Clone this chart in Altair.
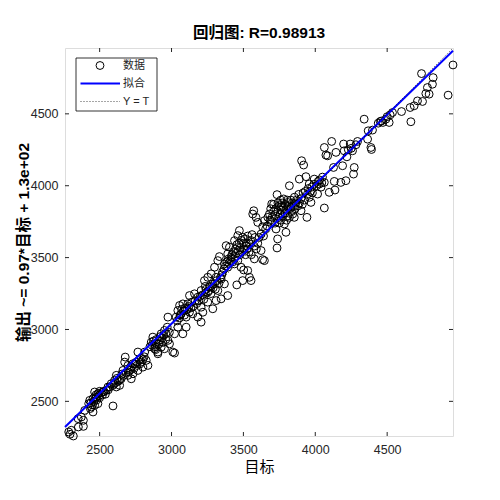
import altair as alt
import pandas as pd

# ---- data (target T, output O) ----
region_a = [
    (2294, 2271), (2285, 2287), (2317, 2259), (2303, 2299), (2352, 2322), (2387, 2326), (2387, 2368),
    (2350, 2380), (2373, 2391), (2396, 2437), (2424, 2484), (2431, 2507), (2442, 2461), (2454, 2426),
    (2454, 2519), (2465, 2472), (2465, 2565), (2477, 2530), (2488, 2484), (2488, 2553), (2523, 2565),
    (2546, 2576), (2558, 2600), (2581, 2623), (2593, 2468), (2604, 2646), (2616, 2681), (2616, 2600),
    (2639, 2611), (2650, 2657), (2662, 2715), (2674, 2773), (2678, 2808), (2697, 2750), (2697, 2681),
    (2440, 2490), (2460, 2500), (2470, 2520), (2480, 2510), (2495, 2540), (2500, 2525), (2510, 2560),
    (2520, 2545), (2530, 2570), (2540, 2550), (2500, 2570), (2475, 2545), (2450, 2475), (2435, 2450),
    (2560, 2580), (2570, 2600), (2590, 2610), (2610, 2630), (2620, 2660), (2630, 2640), (2640, 2650),
    (2600, 2620), (2655, 2690), (2665, 2680), (2685, 2700),
]
region_b = [
    (2708, 2715), (2720, 2657), (2732, 2692), (2732, 2762), (2755, 2773), (2766, 2715), (2766, 2843),
    (2789, 2773), (2801, 2738), (2813, 2843), (2824, 2785), (2836, 2750), (2859, 2912), (2870, 2947),
    (2882, 2866), (2894, 2900), (2905, 2843), (2905, 2831), (2917, 2924), (2928, 2970), (2928, 2877),
    (2951, 2993), (2951, 2866), (2970, 3016), (2975, 3086), (2975, 2924), (2986, 2900), (3009, 2843),
    (3021, 2836),
    (2720, 2740), (2740, 2730), (2745, 2760), (2760, 2750), (2775, 2790), (2780, 2760), (2790, 2800),
    (2800, 2790), (2810, 2810), (2715, 2720), (2700, 2705), (2850, 2880), (2865, 2890), (2875, 2920),
    (2885, 2880), (2895, 2930), (2910, 2900), (2920, 2950), (2935, 2940), (2945, 2960), (2960, 2970),
    (2960, 2930), (2940, 2910), (2890, 2860), (2985, 2980),
]
region_c = [
    (3021, 2970), (3032, 3086), (3044, 3016), (3044, 3132), (3056, 3167), (3067, 3109), (3079, 2970),
    (3079, 3178), (3102, 3016), (3102, 3086), (3113, 3178), (3125, 3120), (3125, 3236), (3148, 3109),
    (3160, 3248), (3183, 3225), (3183, 3086), (3206, 3271), (3206, 3155), (3206, 3051), (3218, 3120),
    (3229, 3340), (3252, 3363), (3252, 3259), (3252, 3190), (3264, 3294), (3276, 3387), (3287, 3317),
    (3287, 3144), (3299, 3433), (3310, 3363), (3310, 3201), (3322, 3479), (3322, 3271), (3333, 3507),
    (3345, 3213),
    (3040, 3060), (3055, 3080), (3060, 3100), (3070, 3140), (3085, 3130), (3090, 3100), (3095, 3150),
    (3110, 3140), (3120, 3160), (3135, 3150), (3140, 3190), (3150, 3160), (3165, 3200), (3175, 3180),
    (3190, 3200), (3200, 3230), (3215, 3240), (3225, 3210), (3235, 3250), (3240, 3280), (3260, 3270),
    (3270, 3300), (3275, 3250), (3290, 3290), (3300, 3320), (3305, 3280), (3315, 3340), (3330, 3320),
    (3340, 3360), (3235, 3300),
]
region_d = [
    (3368, 3456), (3368, 3317), (3380, 3583), (3391, 3526), (3391, 3433), (3391, 3236), (3403, 3572),
    (3414, 3502), (3438, 3618), (3438, 3456), (3454, 3310), (3461, 3653), (3461, 3479), (3472, 3688),
    (3484, 3433), (3495, 3641), (3495, 3340), (3502, 3414), (3519, 3583), (3530, 3410), (3542, 3595),
    (3542, 3363), (3553, 3340), (3565, 3803), (3572, 3826), (3576, 3491), (3588, 3780),
    (3355, 3400), (3365, 3420), (3375, 3440), (3385, 3470), (3395, 3490), (3400, 3460), (3410, 3480),
    (3420, 3520), (3425, 3470), (3430, 3540), (3440, 3500), (3445, 3560), (3450, 3530), (3455, 3590),
    (3465, 3550), (3470, 3600), (3475, 3520), (3480, 3570), (3485, 3620), (3490, 3540), (3500, 3600),
    (3505, 3560), (3510, 3630), (3515, 3520), (3520, 3600), (3525, 3560), (3530, 3650), (3540, 3540),
    (3550, 3620), (3555, 3520), (3560, 3660), (3575, 3580), (3580, 3640), (3590, 3560), (3600, 3600),
    (3350, 3380), (3345, 3350),
]
region_e = [
    (3600, 3745), (3623, 3664), (3623, 3549), (3634, 3486), (3634, 3715), (3646, 3479), (3646, 3757),
    (3681, 3803), (3692, 3745), (3697, 3873), (3727, 3699), (3734, 3938), (3734, 3567), (3738, 3630),
    (3762, 3850), (3780, 3908), (3785, 3734), (3796, 3676), (3808, 3884), (3820, 4000), (3831, 3850),
    (3843, 3803), (3854, 3780), (3889, 4046), (3901, 3826), (3905, 4174), (3919, 4144), (3935, 4063),
    (3942, 3780), (3958, 4012), (3958, 3919), (3970, 3884), (3993, 4046),
    (3700, 3780), (3710, 3820), (3720, 3800), (3725, 3840), (3740, 3820), (3745, 3780), (3750, 3860),
    (3755, 3800), (3765, 3830), (3770, 3880), (3775, 3790), (3780, 3850), (3790, 3870), (3790, 3810),
    (3800, 3830), (3805, 3900), (3810, 3790), (3815, 3860), (3825, 3840), (3830, 3900), (3835, 3820),
    (3840, 3880), (3850, 3860), (3855, 3920), (3860, 3840), (3865, 3880), (3870, 3900), (3880, 3860),
    (3885, 3940), (3890, 3880), (3900, 3910), (3910, 3870), (3915, 3950), (3925, 3900), (3930, 3960),
    (3945, 3940), (3950, 3980), (3965, 3960), (3975, 3990), (3980, 3950), (3990, 4010), (3760, 3760),
    (3750, 3740), (3720, 3740), (3685, 3760), (3665, 3720), (3655, 3700), (3670, 3780), (3800, 3760),
    (3820, 3780), (3760, 3900), (3740, 3880), (3690, 3840), (3710, 3870), (3640, 3650), (3610, 3640),
]
region_f = [
    (4016, 3942), (4028, 4012), (4063, 4023), (4063, 4266), (4063, 3845), (4074, 4213), (4086, 4208),
    (4097, 3954), (4114, 4308), (4127, 4127), (4132, 4030), (4137, 3970), (4144, 4232), (4178, 4023),
    (4190, 4139), (4197, 4290), (4201, 4243), (4213, 4035), (4220, 4201), (4243, 4290), (4259, 4243),
    (4266, 4081), (4271, 4127), (4283, 4285), (4294, 4308), (4340, 4463), (4364, 4324), (4368, 4382),
    (4387, 4266), (4391, 4252), (4398, 4387), (4438, 4435), (4452, 4447), (4491, 4463), (4514, 4440),
    (4521, 4493), (4537, 4509), (4600, 4516), (4660, 4544), (4665, 4445), (4688, 4556), (4711, 4590),
    (4739, 4780), (4746, 4586), (4769, 4641), (4780, 4683), (4792, 4637), (4815, 4706), (4820, 4752),
    (4924, 4630), (4958, 4840),
    (4010, 4000), (4030, 4040), (4045, 4020), (4050, 4060), (4040, 3990), (4020, 4030), (4230, 4250),
    (4250, 4260), (4460, 4450), (4470, 4440), (4500, 4480),
]

tick_values = [2500, 3000, 3500, 4000, 4500]
fit_slope = 0.97
fit_intercept = 130
r_value = 0.98913

title_text = f"回归图: R={r_value}"
x_title = "目标"
y_title = "输出 ~= 0.97*目标 + 1.3e+02"
legend_labels = ["数据", "拟合", "Y = T"]

# ---- build tables ----
df = pd.DataFrame(region_a + region_b + region_c + region_d + region_e + region_f, columns=["T", "O"])
lo = float(min(df["T"].min(), df["O"].min()))
hi = float(max(df["T"].max(), df["O"].max()))
fit_df = pd.DataFrame({"T": [lo, hi]})
fit_df["O"] = fit_slope * fit_df["T"] + fit_intercept
id_df = pd.DataFrame({"T": [lo, hi], "O": [lo, hi]})
xt_df = pd.DataFrame({"T": tick_values})
yt_df = pd.DataFrame({"O": tick_values})
one = pd.DataFrame({"a": [0]})

W = H = 388
TL = 4
FONT = "Liberation Sans, Noto Sans CJK SC"
AX = "#262626"

xs = alt.Scale(domain=[lo, hi], nice=False, zero=False)
ys = alt.Scale(domain=[lo, hi], nice=False, zero=False)

x_axis = alt.Axis(title=x_title, values=tick_values, format="d", ticks=False, domain=False, grid=False,
                  labelPadding=7, labelFontSize=12.5, labelColor=AX, labelFont=FONT,
                  titleFont=FONT, titleFontSize=15, titleFontWeight="normal", titleColor="black",
                  titlePadding=4)
y_axis = alt.Axis(title=y_title, values=tick_values, format="d", ticks=False, domain=False, grid=False,
                  labelPadding=7, labelFontSize=12.5, labelColor=AX, labelFont=FONT,
                  titleFont=FONT, titleFontSize=15.5, titleFontWeight="bold", titleColor="black",
                  titlePadding=-1)


def X():
    return alt.X("T:Q", scale=xs, axis=x_axis)


def Y():
    return alt.Y("O:Q", scale=ys, axis=y_axis)


points = alt.Chart(df).mark_point(shape="circle", filled=False, color="black", opacity=1,
                                  size=62, strokeWidth=1).encode(x=X(), y=Y())
fit = alt.Chart(fit_df).mark_line(color="#0000ff", strokeWidth=2).encode(x=X(), y=Y())
ident = alt.Chart(id_df).mark_line(color="black", strokeWidth=0.7, strokeDash=[1, 2]).encode(x=X(), y=Y())

tick_style = dict(color=AX, strokeWidth=1)
t_bottom = alt.Chart(xt_df).mark_rule(**tick_style).encode(x=X(), y=alt.value(H), y2=alt.value(H - TL))
t_top = alt.Chart(xt_df).mark_rule(**tick_style).encode(x=X(), y=alt.value(0), y2=alt.value(TL))
t_left = alt.Chart(yt_df).mark_rule(**tick_style).encode(y=Y(), x=alt.value(0), x2=alt.value(TL))
t_right = alt.Chart(yt_df).mark_rule(**tick_style).encode(y=Y(), x=alt.value(W), x2=alt.value(W - TL))

# ---- legend box (styling) ----
leg_box = alt.Chart(one).mark_rect(fill="white", stroke="black", strokeWidth=0.8).encode(
    x=alt.value(11), x2=alt.value(92), y=alt.value(10), y2=alt.value(63))
leg_pt = alt.Chart(one).mark_point(shape="circle", filled=False, color="black", opacity=1,
                                   size=62, strokeWidth=1).encode(x=alt.value(35), y=alt.value(17.5))
leg_fit = alt.Chart(one).mark_rule(color="#0000ff", strokeWidth=2).encode(
    x=alt.value(15.5), x2=alt.value(55), y=alt.value(35.5))
leg_id = alt.Chart(one).mark_rule(color="black", strokeWidth=0.7, strokeDash=[1, 2]).encode(
    x=alt.value(15.5), x2=alt.value(55), y=alt.value(53.5))
leg_texts = [
    alt.Chart(one).mark_text(align="left", baseline="middle", font=FONT, fontSize=11, color=AX).encode(
        x=alt.value(58), y=alt.value(yy), text=alt.value(lbl))
    for lbl, yy in zip(legend_labels, [17.5, 35.5, 53.5])
]

chart = alt.layer(points, fit, ident, t_bottom, t_top, t_left, t_right,
                  leg_box, leg_pt, leg_fit, leg_id, *leg_texts).properties(
    width=W, height=H,
    title=alt.TitleParams(title_text, font=FONT, fontSize=15.5, fontWeight="bold", color="black", offset=5),
    autosize=alt.AutoSizeParams(type="none"),
    padding={"left": 57, "top": 40, "right": 30, "bottom": 50},
).configure_view(stroke=AX, strokeWidth=1).configure(background="white")

chart.save("out.html", embed_options={"renderer": "svg", "actions": False})
